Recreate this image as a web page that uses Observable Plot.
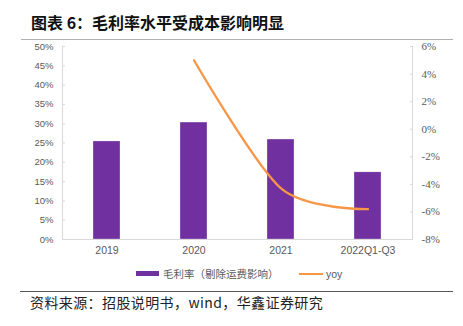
<!DOCTYPE html>
<html>
<head>
<meta charset="utf-8">
<script src="https://cdn.jsdelivr.net/npm/d3@7"></script>
<script src="https://cdn.jsdelivr.net/npm/@observablehq/plot@0.6"></script>
<style>
  html, body { margin: 0; padding: 0; background: #fff; }
  #wrap { position: relative; width: 463px; height: 326px; overflow: hidden; }
  #title { position: absolute; left: 31px; top: 10px; font: bold 16px "Noto Sans CJK SC", sans-serif; color: #111; line-height: 24px; white-space: nowrap; }
  .hline { position: absolute; height: 1px; }
  #chart { position: absolute; left: 0; top: 0; }
  #legend { position: absolute; top: 266px; left: 0; width: 463px; height: 16px; font: 10.5px "Noto Sans CJK SC", sans-serif; color: #595959; }
  .sw { position: absolute; }
  .lt { position: absolute; top: 0; line-height: 16px; white-space: nowrap; }
  #source { position: absolute; left: 30px; top: 292px; font: 14px "Noto Sans CJK SC", sans-serif; color: #222; line-height: 20px; letter-spacing: 0.4px; white-space: nowrap; }
</style>
</head>
<body>
<div id="wrap">
  <div id="title">图表 6：毛利率水平受成本影响明显</div>
  <div class="hline" style="left:21px; width:432px; top:39px; background:#b0b0b0;"></div>
  <div id="chart"></div>
  <div id="legend">
    <div class="sw" style="left:136px; top:5px; width:23px; height:5px; background:#7030A0;"></div>
    <div class="lt" style="left:163px;">毛利率（剔除运费影响）</div>
    <div class="sw" style="left:299px; top:6.5px; width:24px; height:2px; background:#F79646;"></div>
    <div class="lt" style="left:326px; font-family:'Liberation Sans', sans-serif;">yoy</div>
  </div>
  <div class="hline" style="left:20px; width:433px; top:291px; background:#555;"></div>
  <div id="source">资料来源：招股说明书，wind，华鑫证券研究</div>
</div>
<script>
// Data
const categories = ["2019", "2020", "2021", "2022Q1-Q3"];
const grossMargin = [25.4, 30.3, 25.9, 17.4];      // %
const yoy = [null, 5.0, -4.3, -5.8];                 // %
const leftTicks = [0, 5, 10, 15, 20, 25, 30, 35, 40, 45, 50];
const rightTicks = [-8, -6, -4, -2, 0, 2, 4, 6];

// Map right axis [-8, 6] onto left axis [0, 50]
const rMin = -8, rMax = 6, lMin = 0, lMax = 50;
const toLeft = v => lMin + (v - rMin) / (rMax - rMin) * (lMax - lMin);
const toRight = v => rMin + (v - lMin) / (lMax - lMin) * (rMax - rMin);

const bars = categories.map((c, i) => ({cat: c, value: grossMargin[i]}));
const linePts = categories.map((c, i) => ({cat: c, value: yoy[i]}))
  .filter(d => d.value != null)
  .map(d => ({cat: d.cat, y: toLeft(d.value)}));

const axisColor = "#d9d9d9";

const chart = Plot.plot({
  width: 463,
  height: 326,
  marginTop: 46,
  marginBottom: 87,
  marginLeft: 62,
  marginRight: 51,
  style: {background: "transparent", overflow: "visible"},
  x: {domain: categories, paddingInner: 0.686, paddingOuter: 0.343, axis: null},
  y: {domain: [lMin, lMax], axis: null},
  marks: [
    Plot.barY(bars, {x: "cat", y: "value", fill: "#7030A0", stroke: "#ffffff", strokeWidth: 0.6, strokeOpacity: 0.5}),
    Plot.line(linePts, {x: "cat", y: "y", curve: "cardinal", tension: 0.15, stroke: "#F79646", strokeWidth: 2.3}),
    // axis lines
    Plot.frame({anchor: "left", stroke: axisColor}),
    Plot.frame({anchor: "right", stroke: axisColor}),
    Plot.frame({anchor: "bottom", stroke: axisColor}),
    // left ticks (inward) and labels
    Plot.axisY(leftTicks, {anchor: "left", tickSize: 3, dx: 3, text: null, stroke: axisColor, label: null}),
    Plot.axisY(leftTicks, {anchor: "left", tickSize: 0, tickPadding: 9, tickFormat: d => d + "%", label: null,
      fontSize: 9.5, fontFamily: "Liberation Sans, Arial, sans-serif", fill: "#595959"}),
    // right ticks (inward) and labels
    Plot.axisY(rightTicks.map(toLeft), {anchor: "right", tickSize: 3, dx: -3, text: null, stroke: axisColor, label: null}),
    Plot.axisY(rightTicks.map(toLeft), {anchor: "right", tickSize: 0, tickPadding: 9,
      tickFormat: d => Math.round(toRight(d)) + "%", label: null,
      fontSize: 11, fontFamily: "Liberation Serif, Times New Roman, serif", fill: "#595959"}),
    // x labels
    Plot.axisX({anchor: "bottom", tickSize: 0, tickPadding: 7, label: null,
      fontSize: 10.5, fontFamily: "Liberation Sans, Arial, sans-serif", fill: "#595959"})
  ]
});
document.getElementById("chart").appendChild(chart);
</script>
</body>
</html>
